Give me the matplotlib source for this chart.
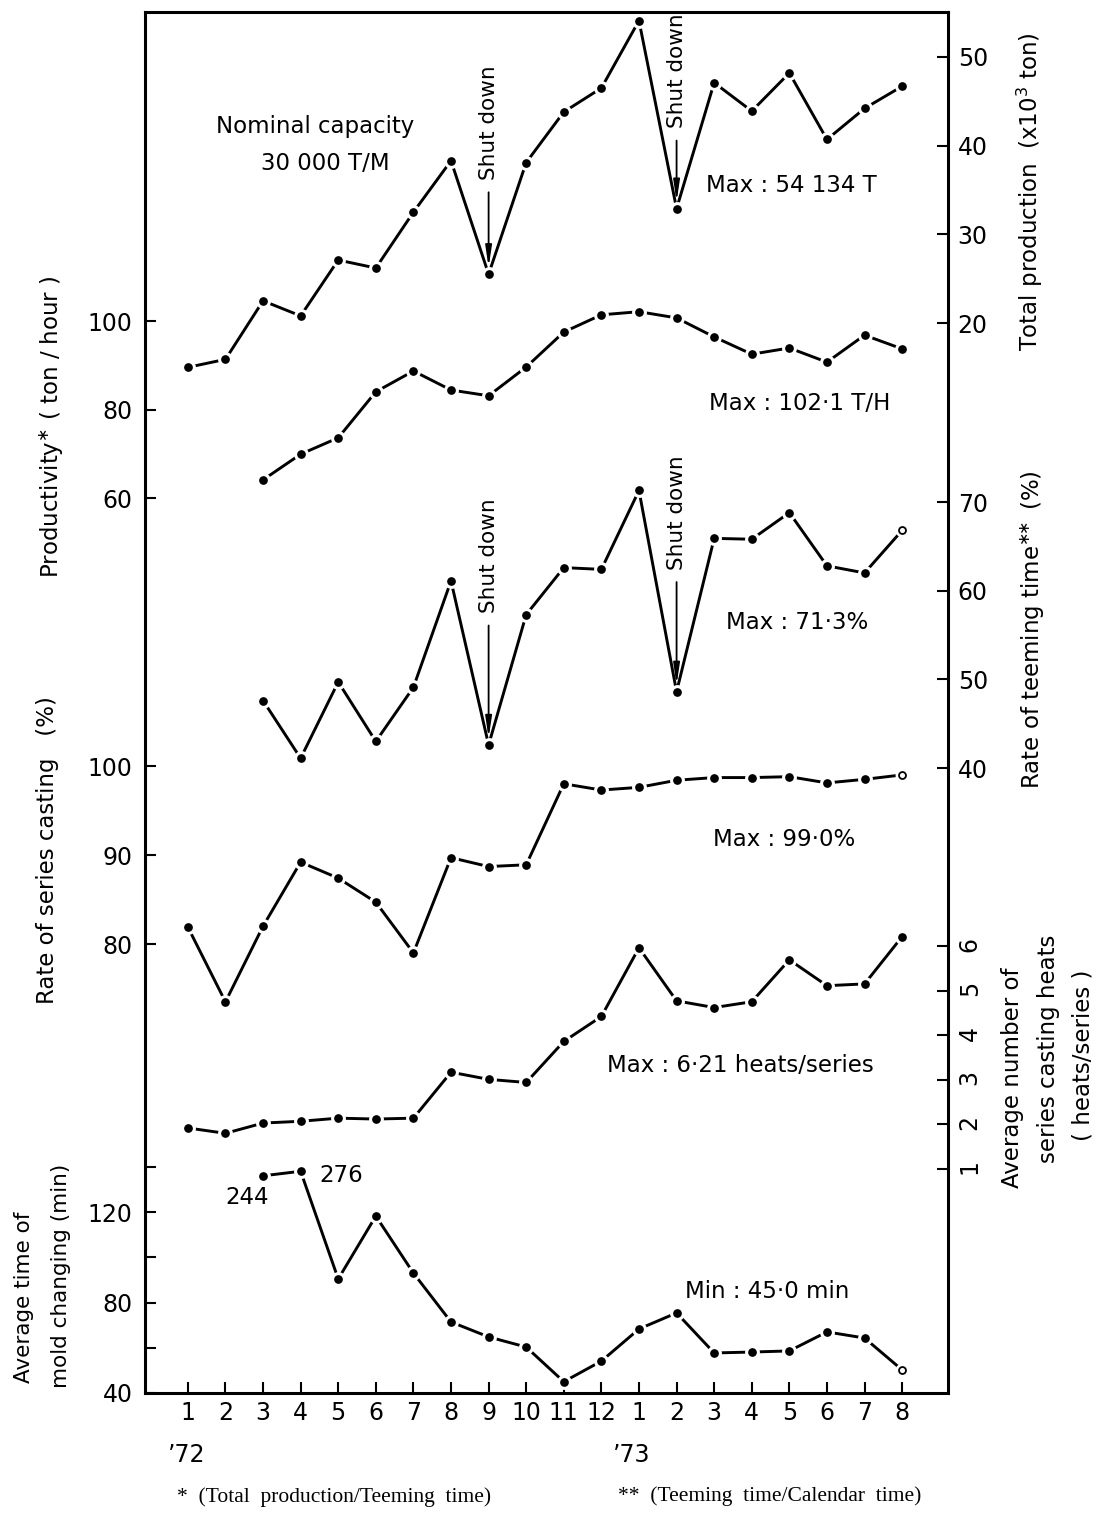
import matplotlib.pyplot as plt

W, H = 1096, 1517
# plot frame in pixels of the output image
LEFT, TOP, RIGHT, BOTTOM = 145, 12, 948, 1393

months = list(range(1, 21))
month_labels = ["1", "2", "3", "4", "5", "6", "7", "8", "9", "10", "11", "12",
                "1", "2", "3", "4", "5", "6", "7", "8"]
late_months = months[2:]   # series that start in March '72

total_prod = [15.0, 15.9, 22.5, 20.8, 27.1, 26.2, 32.5, 38.3, 25.5, 38.1,
              43.8, 46.5, 54.1, 32.9, 47.1, 43.9, 48.2, 40.7, 44.2, 46.7]
productivity = [64.1, 69.9, 73.6, 84.0, 88.7, 84.4, 83.1, 89.6, 97.5,
                101.4, 102.1, 100.7, 96.4, 92.5, 93.9, 90.7, 96.8, 93.7]
teeming_rate = [47.6, 41.1, 49.7, 43.0, 49.1, 61.1, 42.6, 57.3, 62.6,
                62.4, 71.3, 48.6, 65.9, 65.8, 68.8, 62.8, 62.0, 66.8]
series_rate = [81.9, 73.5, 82.0, 89.2, 87.4, 84.7, 79.0, 89.7, 88.7, 88.9,
               98.0, 97.3, 97.6, 98.4, 98.7, 98.7, 98.8, 98.1, 98.5, 99.0]
heats = [1.92, 1.80, 2.03, 2.07, 2.14, 2.12, 2.14, 3.17, 3.01, 2.94,
         3.86, 4.42, 5.96, 4.77, 4.62, 4.75, 5.69, 5.11, 5.15, 6.21]
mold_time = [244, 276, 90.4, 118.2, 93.0, 71.4, 64.8, 60.3, 45.0,
             54.1, 68.3, 75.4, 57.7, 58.1, 58.6, 67.0, 64.3, 50.2]
# the first two mold values are off the scale; the figure parks them near the top
mold_parked = [136, 138]
mold_drawn = mold_parked + mold_time[2:]

shutdown_months = [9, 14]

plt.rcParams["font.family"] = ["DejaVu Sans"]
TICK_SIZE = 17
TEXT_SIZE = 16.5


def fx(px):
    return px / W


def fy(py):
    return 1 - py / H


def frame_limits(v_a, row_a, v_b, row_b):
    # y limits so that value v_a sits on pixel row row_a and v_b on row_b
    per_px = (v_a - v_b) / (row_b - row_a)
    return v_a - (BOTTOM - row_a) * per_px, v_a + (row_a - TOP) * per_px


fig = plt.figure(figsize=(W / 100, H / 100), dpi=100)
ax = fig.add_axes([fx(LEFT), fy(BOTTOM), (RIGHT - LEFT) / W, (BOTTOM - TOP) / H])
ax.set_xlim(-0.14, 21.22)
ax.set_yticks([])
ax.set_xticks(months, month_labels)
ax.tick_params(axis="x", direction="in", length=8, width=1.5, pad=6, labelsize=TICK_SIZE)
for s in ax.spines.values():
    s.set_linewidth(2.2)


def series_axis(side, ticks, labels, limits, rotate=0):
    a = ax.twinx()
    a.set_ylim(*limits)
    for s in a.spines.values():
        s.set_visible(False)
    if side == "left":
        a.yaxis.tick_left()
    else:
        a.yaxis.tick_right()
    a.set_yticks(ticks, labels)
    a.tick_params(axis="y", direction="in", length=8, width=1.5,
                  pad=9 if side == "left" else 7, labelsize=TICK_SIZE, labelrotation=rotate)
    return a


def draw(a, x, y, open_last=False):
    body = slice(0, -1) if open_last else slice(0, None)
    a.plot(x, y, color="black", lw=2.1, marker="o", ms=8.5, mfc="black", mec="white",
           mew=2.2, markevery=body, zorder=3)
    if open_last:
        a.plot(x[-1], y[-1], marker="o", ms=9, mfc="white", mec="white", zorder=4)
        a.plot(x[-1], y[-1], marker="o", ms=5, mfc="white", mec="black", mew=1.3, zorder=5)


ax_total = series_axis("right", [20, 30, 40, 50], ["20", "30", "40", "50"],
                       frame_limits(50, 57, 20, 323))
ax_prod = series_axis("left", [60, 80, 100], ["60", "80", "100"],
                      frame_limits(100, 321, 60, 498))
ax_teem = series_axis("right", [40, 50, 60, 70], ["40", "50", "60", "70"],
                      frame_limits(70, 502, 40, 768))
ax_series = series_axis("left", [80, 90, 100], ["80", "90", "100"],
                        frame_limits(100, 766, 80, 944))
ax_heats = series_axis("right", [1, 2, 3, 4, 5, 6], ["1", "2", "3", "4", "5", "6"],
                       frame_limits(6, 946, 1, 1169), rotate=90)
ax_mold = series_axis("left", [40, 60, 80, 100, 120, 140], ["40", "", "80", "", "120", ""],
                      frame_limits(120, 1212, 40, 1393))

draw(ax_total, months, total_prod)
draw(ax_prod, late_months, productivity)
draw(ax_teem, late_months, teeming_rate, open_last=True)
draw(ax_series, months, series_rate, open_last=True)
draw(ax_heats, months, heats)
draw(ax_mold, late_months, mold_drawn, open_last=True)


def shut_down(a, x_list, y_list, month, rise):
    i = x_list.index(month)
    a.annotate("Shut down", xy=(month, y_list[i]), xytext=(0, rise),
               textcoords="offset points", rotation=90, ha="center", va="bottom",
               fontsize=15.5,
               arrowprops=dict(arrowstyle="-|>,head_length=0.8,head_width=0.12",
                               color="black", lw=1.3, shrinkA=7, shrinkB=5))


shut_down(ax_total, months, total_prod, shutdown_months[0], 68)
shut_down(ax_total, months, total_prod, shutdown_months[1], 58)
shut_down(ax_teem, late_months, teeming_rate, shutdown_months[0], 95)
shut_down(ax_teem, late_months, teeming_rate, shutdown_months[1], 88)

# free text inside the frame
notes = [
    ("Nominal capacity", 216, 127, "left"),
    ("30 000 T/M", 325, 163, "center"),
    ("Max : 54 134 T", 706, 186, "left"),
    ("Max : 102·1 T/H", 709, 403, "left"),
    ("Max : 71·3%", 726, 623, "left"),
    ("Max : 99·0%", 713, 840, "left"),
    ("Max : 6·21 heats/series", 607, 1065, "left"),
    ("Min : 45·0 min", 685, 1291, "left"),
    (str(mold_time[0]), 247, 1198, "center"),
    (str(mold_time[1]), 341, 1175, "center"),
]
for text, px, py, ha in notes:
    fig.text(fx(px), fy(py), text, ha=ha, va="center", fontsize=TEXT_SIZE)

# axis titles
vlabels = [
    (r"Productivity$^{\ast}$ ( ton / hour )", 52, 427),
    ("Rate of series casting   (%)", 48, 850),
    (r"Total production  (x10$^3$ ton)", 1030, 192),
    (r"Rate of teeming time$^{\ast\!\!\ast}$ (%)", 1033, 630),
    ("series casting heats", 1049, 1049),
    ("( heats/series )", 1083, 1055),
    ("Average number of", 1012, 1078),
]
for text, px, py in vlabels:
    fig.text(fx(px), fy(py), text, ha="center", va="center", rotation=90, fontsize=TEXT_SIZE)

fig.text(fx(24), fy(1383), "Average time of", ha="left", va="center", rotation=90,
         rotation_mode="anchor", fontsize=15.5)
fig.text(fx(61), fy(1388), "mold changing (min)", ha="left", va="center", rotation=90,
         rotation_mode="anchor", fontsize=15.5)

fig.text(fx(187), fy(1455), "’72", ha="center", va="center", fontsize=TICK_SIZE)
fig.text(fx(632), fy(1455), "’73", ha="center", va="center", fontsize=TICK_SIZE)

fig.text(fx(177), fy(1497), "*  (Total  production/Teeming  time)", ha="left",
         va="center", fontsize=15.5, family="Liberation Serif")
fig.text(fx(618), fy(1496), "**  (Teeming  time/Calendar  time)", ha="left",
         va="center", fontsize=15.5, family="Liberation Serif")

fig.savefig("out.png", dpi=100)
